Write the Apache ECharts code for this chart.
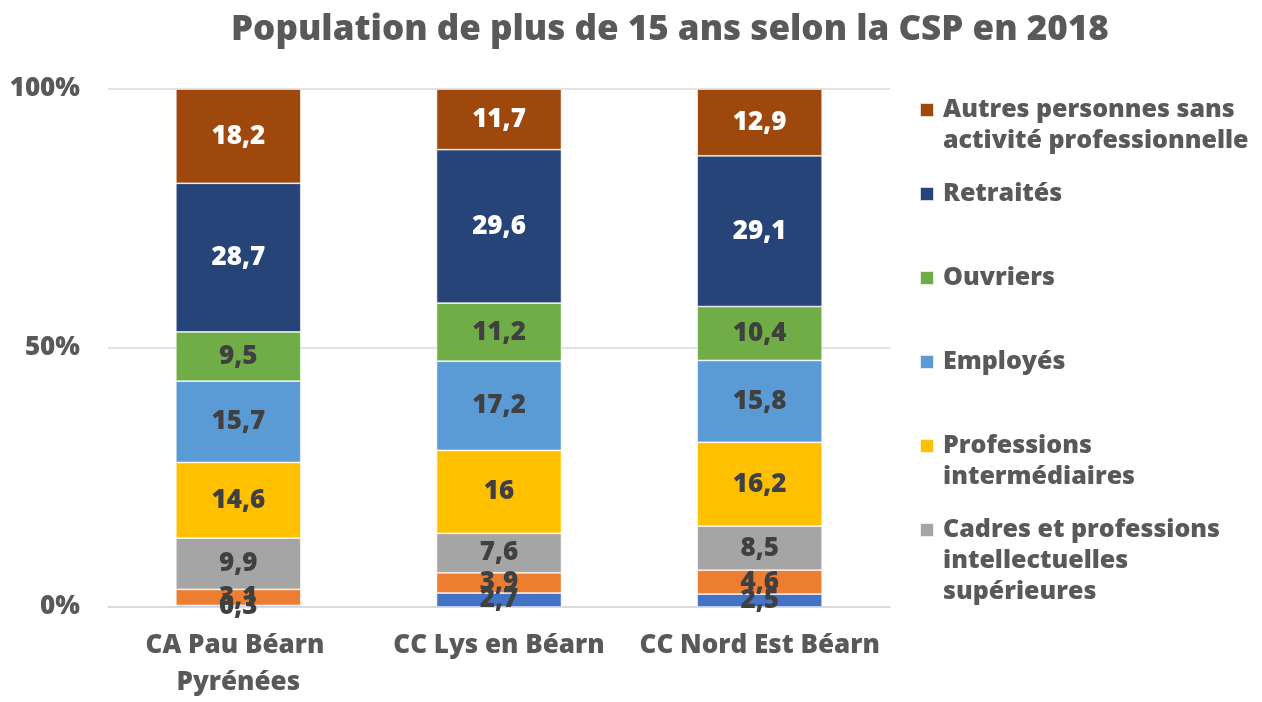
<!DOCTYPE html>
<html>
<head>
<meta charset="utf-8">
<title>Population de plus de 15 ans selon la CSP en 2018</title>
<script src="https://cdn.jsdelivr.net/npm/echarts@6/dist/echarts.min.js"></script>
<style>
	html, body { margin: 0; padding: 0; background: #fff; }
	#main { width: 1262px; height: 702px; }
</style>
</head>
<body>
<div id="main"></div>
<script>
	// territoires (axe des x)
	var territoires = ['CA Pau Béarn Pyrénées', 'CC Lys en Béarn', 'CC Nord Est Béarn'];

	// CSP, du bas vers le haut de la pile
	var csp = [
		'Agriculteurs exploitants',
		'Artisans, commerçants et chefs d\'entreprise',
		'Cadres et professions intellectuelles supérieures',
		'Professions intermédiaires',
		'Employés',
		'Ouvriers',
		'Retraités',
		'Autres personnes sans activité professionnelle'
	];
	var couleurs = ['#4472C4', '#ED7D31', '#A5A5A5', '#FFC000', '#5B9BD5', '#70AD47', '#264478', '#9E480E'];

	// valeurs en % (une liste par CSP, dans l'ordre des territoires)
	var agriculteurs = [0.3, 2.7, 2.5];
	var artisans = [3.1, 3.9, 4.6];
	var cadres = [9.9, 7.6, 8.5];
	var profInter = [14.6, 16, 16.2];
	var employes = [15.7, 17.2, 15.8];
	var ouvriers = [9.5, 11.2, 10.4];
	var retraites = [28.7, 29.6, 29.1];
	var autres = [18.2, 11.7, 12.9];
	var valeurs = [agriculteurs, artisans, cadres, profInter, employes, ouvriers, retraites, autres];

	// graduations de l'axe y
	var yTicks = [0, 50, 100];

	// légende (coupée en bas comme l'original) : du haut vers le bas
	var legendeIdx = [7, 6, 5, 4, 3, 2];
	var legendeTextes = [
		'Autres personnes sans\nactivité professionnelle',
		'Retraités',
		'Ouvriers',
		'Employés',
		'Professions\nintermédiaires',
		'Cadres et professions\nintellectuelles\nsupérieures'
	];
	var legendeY = [110, 194, 278, 362, 446, 530];

	var FONT = 'Open Sans';
	var myChart = echarts.init(document.getElementById('main'));

	var totaux = territoires.map(function(t, j) {
		var s = 0;
		for(var i = 0; i < valeurs.length; i++) s += valeurs[i][j];
		return s;
	});

	// le texte de légende est centré sur l'icône : on ajoute des lignes vides
	// au-dessus pour que la 1re ligne soit alignée sur le carré
	var LH = 31;
	var legends = legendeIdx.map(function(idx, k) {
		var n = legendeTextes[k].split('\n').length;
		var txt = legendeTextes[k];
		for(var b = 1; b < n; b++) txt = ' \n' + txt;
		return {
			orient: 'vertical',
			left: 919,
			top: legendeY[k] - (2 * n - 1) * LH / 2,
			padding: 0,
			itemWidth: 14,
			itemHeight: 14,
			selectedMode: false,
			icon: 'rect',
			data: [csp[idx]],
			formatter: function() { return txt; },
			textStyle: {
				color: '#595959',
				fontSize: 25,
				fontWeight: 800,
				fontFamily: FONT,
				lineHeight: LH,
				padding: [0, 0, 0, 4]
			}
		};
	});

	var series = csp.map(function(nom, i) {
		var sombre = (i === 6 || i === 7);
		return {
			name: nom,
			type: 'bar',
			stack: 'total',
			barWidth: 125,
			itemStyle: {
				color: couleurs[i],
				borderColor: 'rgba(255,255,255,0.8)',
				borderWidth: 0.75
			},
			label: {
				show: true,
				position: 'inside',
				color: sombre ? '#ffffff' : '#404040',
				fontSize: 26,
				fontWeight: 800,
				fontFamily: FONT,
				formatter: function(p) {
					return String(valeurs[i][p.dataIndex]).replace('.', ',');
				}
			},
			data: valeurs[i].map(function(v, j) { return v / totaux[j] * 100; })
		};
	});

	var option = {
		animation: false,
		color: couleurs,
		title: {
			text: 'Population de plus de 15 ans selon la CSP en 2018',
			left: 226,
			top: 8,
			textStyle: {
				color: '#595959',
				fontSize: 35,
				fontWeight: 800,
				fontFamily: FONT
			}
		},
		legend: legends,
		grid: {
			left: 108,
			right: 372,
			top: 89,
			bottom: 95,
			containLabel: false
		},
		xAxis: {
			type: 'category',
			data: territoires,
			axisTick: { show: false },
			axisLine: { lineStyle: { color: '#D9D9D9', width: 1.5 } },
			axisLabel: {
				color: '#595959',
				fontSize: 26,
				fontWeight: 800,
				fontFamily: FONT,
				margin: 20,
				lineHeight: 37,
				width: 260,
				overflow: 'break',
				interval: 0
			}
		},
		yAxis: {
			type: 'value',
			min: yTicks[0],
			max: yTicks[yTicks.length - 1],
			interval: yTicks[1] - yTicks[0],
			axisLine: { show: false },
			axisTick: { show: false },
			splitLine: { lineStyle: { color: '#D9D9D9', width: 1.5 } },
			axisLabel: {
				formatter: '{value}%',
				color: '#595959',
				fontSize: 26,
				fontWeight: 800,
				fontFamily: FONT,
				margin: 28
			}
		},
		series: series
	};
	myChart.setOption(option);
</script>
</body>
</html>
